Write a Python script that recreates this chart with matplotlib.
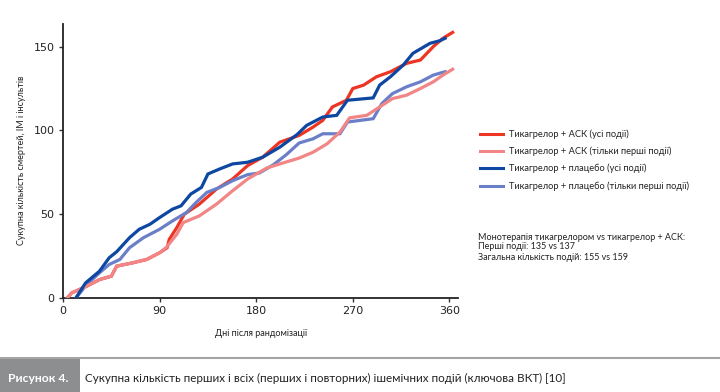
import matplotlib
matplotlib.use("Agg")
import matplotlib.pyplot as plt
from matplotlib.lines import Line2D
from matplotlib.patches import Rectangle

# ---- data ----
red_days = [4, 8, 22, 34, 45, 50, 65, 78, 90, 97, 99, 106, 113, 127, 143, 158, 172, 186, 202,
            220, 233, 242, 251, 264, 270, 280, 292, 305, 320, 333, 345, 354, 363]
red_vals = [0, 3, 7, 11, 13, 19, 21, 23, 27, 30, 35, 42, 50, 56, 65, 71, 79, 84, 93,
            97, 102, 106, 114, 118, 125, 127, 132, 135, 140, 142, 150, 155, 158.5]

pink_days = [4, 8, 22, 34, 45, 50, 65, 78, 90, 96, 106, 112, 127, 143, 158, 172, 190, 205, 220,
             233, 246, 258, 267, 283, 295, 307, 320, 333, 345, 354, 363]
pink_vals = [0, 3, 7, 11, 13, 19, 21, 23, 27, 30, 38, 45, 49, 56, 64, 71, 77.6, 80.6, 83.5,
             87, 92, 99, 107.5, 109, 114, 119, 121, 125, 129, 133, 136.5]

dblue_days = [12, 21, 34, 43, 50, 62, 71, 81, 90, 102, 110, 119, 129, 135, 146, 158, 172, 186,
              202, 218, 227, 242, 255, 265, 289, 295, 305, 317, 326, 342, 351, 356]
dblue_vals = [0, 9, 16, 24, 27.6, 36, 41, 44, 48, 53, 55, 62, 66, 74, 77, 80, 81, 84,
              90, 97.5, 103, 108, 109, 118, 119.4, 127, 132, 139, 146, 152, 153.5, 155]

lblue_days = [12, 22, 34, 43, 53, 62, 75, 90, 102, 115, 124, 134, 146, 158, 172, 183, 196, 208,
              220, 233, 242, 258, 265, 289, 297, 307, 320, 333, 345, 353, 356]
lblue_vals = [0, 8, 15, 20, 23, 30, 36, 41, 46, 51, 57, 63, 66, 70, 73.6, 74.6, 79.5, 85.5,
              92.5, 95, 98, 98, 105, 107, 116, 122, 126, 129, 133, 134.5, 135]

x_ticks = [0, 90, 180, 270, 360]
y_ticks = [0, 50, 100, 150]

labels = ["Тикагрелор + АСК (усі події)",
          "Тикагрелор + АСК (тільки перші події)",
          "Тикагрелор + плацебо (усі події)",
          "Тикагрелор + плацебо (тільки перші події)"]
colors = ["#EE3524", "#F28585", "#0D47A1", "#6B7FC9"]

note_lines = ["Монотерапія тикагрелором vs тикагрелор + АСК:",
              "Перші події: 135 vs 137",
              "Загальна кількість подій: 155 vs 159"]

caption_tag = "Рисунок 4."
caption = "Сукупна кількість перших і всіх (перших і повторних) ішемічних подій (ключова ВКТ) [10]"
x_label = "Дні після рандомізації"
y_label = "Сукупна кількість смертей, ІМ і інсультів"

plt.rcParams['font.family'] = ['DejaVu Sans']
W, H = 720, 392
TXT = ['Lato', 'DejaVu Sans']

fig = plt.figure(figsize=(7.2, 3.92), dpi=100)
ax = fig.add_axes([63 / W, 1 - 298 / H, (458 - 63) / W, (298 - 24) / H])

lw = 2.3
series = [(red_days, red_vals), (pink_days, pink_vals), (dblue_days, dblue_vals), (lblue_days, lblue_vals)]
for i in [0, 1, 3, 2]:
    d, v = series[i]
    ax.plot(d, v, color=colors[i], lw=lw, solid_joinstyle='miter',
            zorder=3 + (1 if i in (1, 2) else 0))

ax.set_xlim(0, 368)
ax.set_ylim(0, 163.5)
ax.set_xticks(x_ticks)
ax.set_yticks(y_ticks)
ax.tick_params(labelsize=8, length=3, width=1, color="#333333", labelcolor="#222222", pad=3)
for s in ["top", "right"]:
    ax.spines[s].set_visible(False)
for s in ["left", "bottom"]:
    ax.spines[s].set_linewidth(1.3)
    ax.spines[s].set_color("#222222")

renderer = fig.canvas.get_renderer()


def fit(t, target_px, vertical=False):
    """Scale font size so the text's extent matches target pixels."""
    for _ in range(3):
        bb = t.get_window_extent(renderer=renderer)
        cur = bb.height if vertical else bb.width
        if cur > 0:
            t.set_fontsize(t.get_fontsize() * target_px / cur)
    return t


t = fig.text(261.5 / W, 1 - 333 / H, x_label, ha="center", va="center", fontsize=7,
             family=TXT, color="#222222")
fit(t, 93)
t = fig.text(22 / W, 1 - 160 / H, y_label, ha="center", va="center", rotation=90, fontsize=7,
             family=TXT, color="#222222")
fit(t, 170, vertical=True)

# legend
leg_y = [134, 151, 168, 186]
leg_texts = []
for i, yy in enumerate(leg_y):
    fy = 1 - yy / H
    fig.add_artist(Line2D([480 / W, 503 / W], [fy, fy], color=colors[i], lw=2.2))
    leg_texts.append(fig.text(509 / W, fy, labels[i], ha="left", va="center", fontsize=7,
                              family=TXT, color="#222222"))
fit(leg_texts[3], 179)
for tt in leg_texts[:3]:
    tt.set_fontsize(leg_texts[3].get_fontsize())

note_texts = []
for j, yy in enumerate([237, 247, 258]):
    note_texts.append(fig.text(478 / W, 1 - yy / H, note_lines[j], ha="left", va="center",
                               fontsize=7, family=TXT, color="#222222"))
fit(note_texts[0], 207)
for tt in note_texts[1:]:
    tt.set_fontsize(note_texts[0].get_fontsize())

# caption bar
fig.add_artist(Line2D([0, 1], [1 - 358 / H, 1 - 358 / H], color="#A5A5A5", lw=1.5))
fig.add_artist(Rectangle((0, 0), 80 / W, 1 - 359 / H, transform=fig.transFigure,
                         facecolor="#8C8E90", edgecolor="none"))
t = fig.text(8 / W, 1 - 378 / H, caption_tag, ha="left", va="center", fontsize=8, color="white",
             weight="bold", family=TXT)
fit(t, 60)
t = fig.text(85 / W, 1 - 378 / H, caption, ha="left", va="center", fontsize=8.5, color="#222222",
             family=TXT)
fit(t, 482)

fig.savefig("out.png", dpi=100, facecolor="white")
